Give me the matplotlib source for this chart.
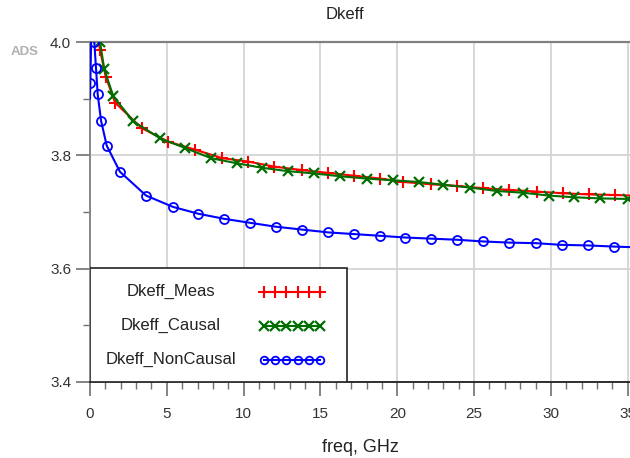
import matplotlib.pyplot as plt
from matplotlib.patches import Rectangle
from matplotlib.ticker import MultipleLocator
import numpy as np

plt.rcParams['font.family'] = ['Liberation Sans', 'DejaVu Sans']

# measured Dkeff (GHz, value)
freq_meas = [0.40, 0.65, 1.02, 1.63, 3.37, 5.10, 6.84, 8.60, 10.3, 12.0, 13.8,
             15.5, 17.2, 18.9, 20.4, 22.2, 23.9, 25.6, 27.3, 29.1, 30.8, 32.5, 34.2, 35.2]
dk_meas = [4.03, 3.986, 3.939, 3.893, 3.848, 3.824, 3.810, 3.795, 3.789, 3.780, 3.774,
           3.769, 3.764, 3.759, 3.753, 3.749, 3.746, 3.742, 3.739, 3.736, 3.733, 3.731, 3.730, 3.729]

# causal model
freq_causal = [0.55, 0.65, 0.93, 1.52, 2.82, 4.56, 6.19, 7.88, 9.55, 11.2, 12.9, 14.6,
               16.3, 18.0, 19.7, 21.4, 23.0, 24.76, 26.5, 28.2, 29.86, 31.5, 33.2, 35.0]
dk_causal = [4.02, 4.0, 3.952, 3.904, 3.860, 3.830, 3.813, 3.795, 3.786, 3.778, 3.772, 3.768,
             3.763, 3.759, 3.756, 3.753, 3.748, 3.743, 3.737, 3.734, 3.729, 3.726, 3.724, 3.723]

# non-causal model
freq_noncausal = [0.0, 0.02, 0.12, 0.28, 0.39, 0.50, 0.72, 1.09, 1.95, 3.65, 5.4, 7.04,
                  8.73, 10.4, 12.1, 13.8, 15.5, 17.2, 18.9, 20.5, 22.2, 23.9, 25.6,
                  27.3, 29.0, 30.7, 32.4, 34.1, 35.2]
dk_noncausal = [3.900, 3.927, 4.06, 4.0, 3.954, 3.908, 3.861, 3.817, 3.771, 3.729, 3.709, 3.697,
                3.688, 3.681, 3.674, 3.669, 3.664, 3.661, 3.658, 3.655, 3.653, 3.651, 3.648,
                3.646, 3.645, 3.642, 3.641, 3.639, 3.638]

legend_labels = ["Dkeff_Meas", "Dkeff_Causal", "Dkeff_NonCausal"]
c_red, c_green, c_blue = '#ff0000', '#006e00', '#0000ff'

fig = plt.figure(figsize=(6.3, 4.58), dpi=100)
ax = fig.add_axes([90/630, 1-382/458, 540/630, 340/458])

ax.plot(freq_meas, dk_meas, color=c_red, lw=1.5, marker='+', ms=9, mew=1.5,
        markevery=list(range(1, len(freq_meas)-1)), zorder=3)
ax.plot(freq_causal, dk_causal, color=c_green, lw=1.5, marker='x', ms=7, mew=1.6,
        markevery=list(range(1, len(freq_causal))), zorder=4)
ax.plot(freq_noncausal, dk_noncausal, color=c_blue, lw=1.5, marker='o', ms=6.5, mew=1.3,
        mfc='none', markevery=[1] + list(range(3, len(freq_noncausal)-1)), zorder=4)

ax.set_xlim(0, 35.15)
ax.set_ylim(3.4, 4.0)
ax.xaxis.set_major_locator(MultipleLocator(5))
ax.xaxis.set_minor_locator(MultipleLocator(1))
ax.yaxis.set_major_locator(MultipleLocator(0.2))
ax.yaxis.set_minor_locator(MultipleLocator(0.1))
ax.yaxis.set_major_formatter(plt.FormatStrFormatter('%.1f'))

ax.grid(True, which='major', color='#d4d4d4', lw=1.3, zorder=0)
ax.set_axisbelow(True)
ax.spines['right'].set_visible(False)
ax.spines['top'].set_color('#808080')
ax.spines['top'].set_linewidth(1.6)
ax.spines['left'].set_color('#808080')
ax.spines['left'].set_linewidth(1.3)
ax.spines['bottom'].set_color('#202020')
ax.spines['bottom'].set_linewidth(1.3)

ax.tick_params(axis='both', which='major', length=10, width=1.2, color='#707070',
               labelsize=11, labelcolor='#333333')
ax.tick_params(axis='both', which='minor', length=5, width=1.0, color='#707070')
ax.tick_params(axis='x', which='major', pad=8)

ax.set_xlabel("freq, GHz", fontsize=13, color='#222222', labelpad=13)
fig.text(0.548, 0.968, "Dkeff", ha='center', va='center', fontsize=12, color='#222222')
fig.text(25/630, 1-52/458, "ADS", ha='center', va='center', fontsize=9.5,
         fontweight='bold', color='#b0b0b0')

# legend box drawn inside the plot area
ax.add_patch(Rectangle((0, 0), 0.475, 0.335, transform=ax.transAxes, facecolor='white',
                       edgecolor='#222222', lw=1.2, zorder=6))
rows = [0.265, 0.165, 0.065]
styles = [dict(color=c_red, marker='+', ms=9, mew=1.5),
          dict(color=c_green, marker='x', ms=7, mew=1.6),
          dict(color=c_blue, marker='o', ms=5.5, mew=1.3, mfc='none')]
sx = np.linspace(0.322, 0.426, 6)
for label, yr, st in zip(legend_labels, rows, styles):
    ax.text(0.149, yr, label, transform=ax.transAxes, ha='center', va='center',
            fontsize=12, color='#222222', zorder=7)
    ax.plot(sx, [yr]*len(sx), transform=ax.transAxes, lw=1.5, zorder=7,
            clip_on=False, **st)

fig.savefig("out.png", dpi=100)
